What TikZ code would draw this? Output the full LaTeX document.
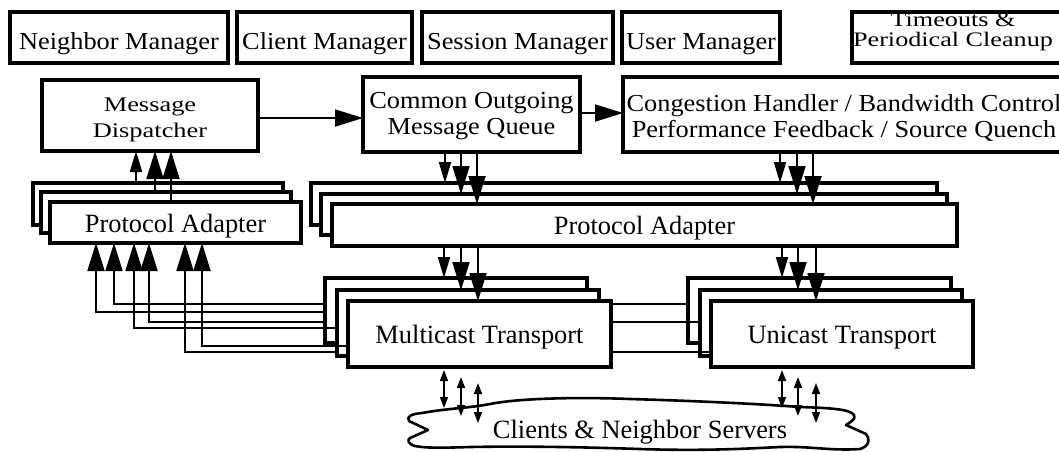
\documentclass[tikz,border=0pt]{standalone}
\usepackage{fontspec}
\setmainfont{Liberation Serif}
\newfontfamily\wideserif[FakeStretch=1.08]{Liberation Serif}
\newfontfamily\widerserif[FakeStretch=1.27]{Liberation Serif}
\usetikzlibrary{arrows.meta}
\begin{document}
\begin{tikzpicture}[x=1pt,y=-1pt,
  every node/.style={font=\fontsize{26.4pt}{26pt}\selectfont, inner sep=0pt, outer sep=0pt},
  box/.style={draw, line width=3.2pt, fill=white, align=center, text depth=0pt},
  widetext/.style={font=\wideserif\fontsize{24.4pt}{26pt}\selectfont},
  widertext/.style={font=\widerserif\fontsize{20.8pt}{26.5pt}\selectfont},
  link/.style={line width=1.8pt},
  smallhead/.style={-{Triangle[length=21pt,width=12pt]}},
  bighead/.style={-{Triangle[length=28pt,width=17pt]}},
  twohead/.style={line width=1.6pt, {Triangle[length=11pt,width=8pt]}-{Triangle[length=11pt,width=8pt]}},
  cloudline/.style={line width=2.6pt, line join=round},
]
\useasboundingbox (0,0) rectangle (1059,451);
\clip (0,0) rectangle (1059,451);

% ---- managers row ----
\node[box, widetext, minimum width=218pt, minimum height=51pt, text height=23pt] (nm) at (119,37.5) {Neighbor Manager};
\node[box, widetext, minimum width=175pt, minimum height=51pt, text height=23pt] (cm) at (324.5,37.5) {Client Manager};
\node[box, widetext, minimum width=191pt, minimum height=51pt, text height=23pt] (sm) at (517.5,37.5) {Session Manager};
\node[box, widetext, minimum width=158pt, minimum height=51pt, text height=23pt] (um) at (701,37.5) {User Manager};
\node[box, minimum width=228pt, minimum height=51pt] (tm) at (966,37.5) {};
\node[align=center, font=\widerserif\fontsize{20.6pt}{20.7pt}\selectfont, text height=18.4pt, text depth=0pt]
  (tmText) at (953,37.5) {Timeouts \&\\Periodical Cleanup};

% ---- dispatcher, outgoing queue, congestion handling ----
\node[box, widertext, minimum width=216pt, minimum height=71pt, text height=44pt] (md) at (150,115.5) {Message\\Dispatcher};
\node[box, widetext, minimum width=217pt, minimum height=75pt, text height=39pt] (coq) at (471.5,114.5) {Common Outgoing\\Message Queue};
\node[box, minimum width=467pt, minimum height=75pt] (cg) at (856.5,114.5) {};
\node[widetext, align=center, text height=45pt, text depth=0pt] (cgText) at (844,114.5)
  {Congestion Handler / Bandwidth Control\\Performance Feedback / Source Quench};

\draw[link, bighead] (md.east |- 0,118) -- (coq.west |- 0,118);
\draw[link, bighead] (coq.east |- 0,113) -- (cg.west |- 0,113);

% ---- protocol adapters (stacks of three) ----
\node[box, minimum width=250pt, minimum height=42pt] (plB) at (158,204) {};
\node[box, minimum width=250pt, minimum height=41pt] (plM) at (166,212.5) {};
\node[box, minimum width=251pt, minimum height=41pt, text height=19pt] (plF) at (175.5,222.5) {Protocol Adapter};

\node[box, minimum width=626pt, minimum height=42pt] (prB) at (624,204) {};
\node[box, minimum width=626pt, minimum height=41pt] (prM) at (634,214.5) {};
\node[box, minimum width=625pt, minimum height=42pt, text height=18pt] (prF) at (644.5,225) {Protocol Adapter};

% adapters up to the dispatcher
\draw[link, smallhead] (plB.north -| 136,0) -- (md.south -| 136,0);
\draw[link, bighead] (plM.north -| 155,0) -- (md.south -| 155,0);
\draw[link, bighead] (plF.north -| 171,0) -- (md.south -| 171,0);

% queue and congestion control down to the adapters
\draw[link, smallhead] (coq.south -| 445,0) -- (prB.north -| 445,0);
\draw[link, bighead] (coq.south -| 461,0) -- (prM.north -| 461,0);
\draw[link, bighead] (coq.south -| 477,0) -- (prF.north -| 477,0);
\draw[link, smallhead] (cg.south -| 780,0) -- (prB.north -| 780,0);
\draw[link, bighead] (cg.south -| 797,0) -- (prM.north -| 797,0);
\draw[link, bighead] (cg.south -| 813,0) -- (prF.north -| 813,0);

% ---- unicast transport stack and its feeds to the adapter ----
\node[box, minimum width=263pt, minimum height=65pt] (ucB) at (819.5,310.5) {};
\node[box, minimum width=262pt, minimum height=66pt] (ucM) at (831,323) {};
\node[box, minimum width=262pt, minimum height=66pt, text height=18pt] (ucF) at (842,334) {Unicast Transport};

\draw[link, bighead] (ucB.west |- 0,304) -| (plF.south -| 114,0);
\draw[link, bighead] (ucM.west |- 0,322) -| (plF.south -| 149,0);
\draw[link, bighead] (ucF.west |- 0,352) -| (plF.south -| 185,0);

% ---- multicast transport stack and its feeds to the adapter ----
\node[box, minimum width=262pt, minimum height=65pt] (mcB) at (456,310.5) {};
\node[box, minimum width=262pt, minimum height=66pt] (mcM) at (468,323) {};
\node[box, minimum width=263pt, minimum height=66pt, text height=18pt] (mcF) at (479.5,334) {Multicast Transport};

\draw[link, bighead] (mcB.west |- 0,312) -| (plF.south -| 96,0);
\draw[link, bighead] (mcM.west |- 0,328) -| (plF.south -| 134,0);
\draw[link, bighead] (mcF.west |- 0,346) -| (plF.south -| 202,0);

% adapter down to the transports
\draw[link, smallhead] (prF.south -| 444,0) -- (mcB.north -| 444,0);
\draw[link, bighead] (prF.south -| 461,0) -- (mcM.north -| 461,0);
\draw[link, bighead] (prF.south -| 478,0) -- (mcF.north -| 478,0);
\draw[link, smallhead] (prF.south -| 782,0) -- (ucB.north -| 782,0);
\draw[link, bighead] (prF.south -| 798,0) -- (ucM.north -| 798,0);
\draw[link, bighead] (prF.south -| 816,0) -- (ucF.north -| 816,0);

% ---- network cloud ----
\draw[cloudline] (422,413)
  .. controls (450,408) and (470,408) .. (490,404)
  .. controls (520,398) and (580,397) .. (630,399)
  .. controls (700,401) and (760,404) .. (800,407)
  .. controls (830,408) and (850,409) .. (854,415)
  .. controls (856,419) and (852,421) .. (846,425)
  -- (866,434)
  .. controls (870,438) and (870,446) .. (860,449)
  .. controls (830,451) and (810,446) .. (780,447)
  .. controls (740,449) and (700,451) .. (640,449)
  .. controls (580,447) and (520,446) .. (470,447)
  .. controls (440,448) and (425,448) .. (415,446)
  .. controls (408,444) and (407,440) .. (410,438)
  -- (428,430)
  -- (409,421)
  .. controls (406,416) and (412,414) .. (422,413) -- cycle;
\node[anchor=base] (cl) at (640,438) {Clients \& Neighbor Servers};

\coordinate (m1t) at (444,370); \coordinate (m1b) at (444,408);
\coordinate (m2t) at (461,377); \coordinate (m2b) at (461,416);
\coordinate (m3t) at (478,383); \coordinate (m3b) at (478,423);
\coordinate (u1t) at (782,370); \coordinate (u1b) at (782,408);
\coordinate (u2t) at (798,377); \coordinate (u2b) at (798,416);
\coordinate (u3t) at (816,383); \coordinate (u3b) at (816,423);
\draw[twohead] (m1t) -- (m1b);
\draw[twohead] (m2t) -- (m2b);
\draw[twohead] (m3t) -- (m3b);
\draw[twohead] (u1t) -- (u1b);
\draw[twohead] (u2t) -- (u2b);
\draw[twohead] (u3t) -- (u3b);
\end{tikzpicture}
\end{document}
